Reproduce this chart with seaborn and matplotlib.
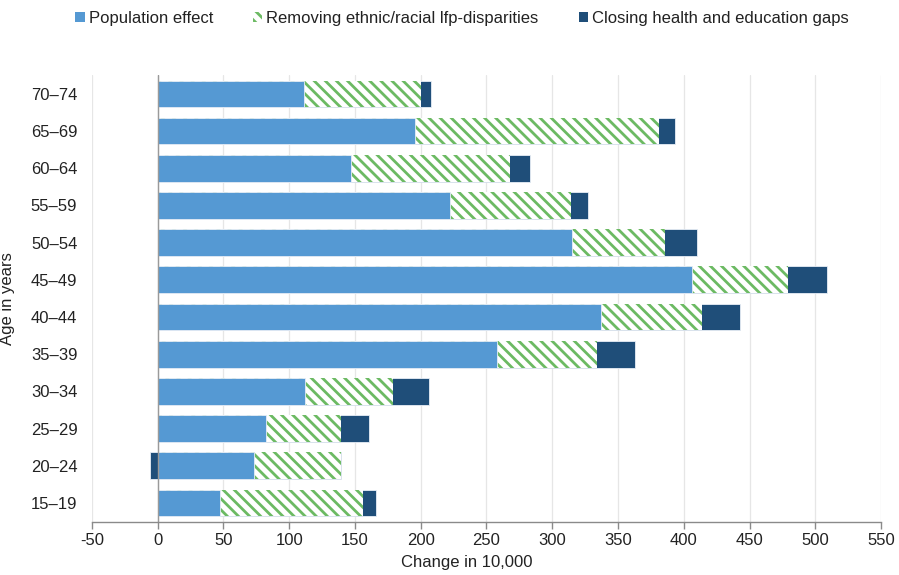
import matplotlib
matplotlib.use("Agg")
import matplotlib.pyplot as plt
import matplotlib.patches as mpatches
import numpy as np
import pandas as pd
import seaborn as sns

# values (change in 10,000)
age_groups = ["70–74", "65–69", "60–64", "55–59", "50–54", "45–49",
              "40–44", "35–39", "30–34", "25–29", "20–24", "15–19"]
population_effect = [111, 196, 147, 222, 315, 406, 337, 258, 112, 82, 73, 47]
ethnic_disparities = [89, 185, 121, 92, 71, 73, 77, 76, 67, 57, 66, 109]
health_education = [8, 12, 15, 13, 24, 30, 29, 29, 27, 22, -6, 10]
x_ticks = list(range(-50, 551, 50))

BLUE = "#5599d3"
GREEN = "#6cba63"
NAVY = "#1f4e79"
HATCH = "\\\\\\"

df = pd.DataFrame({
    "age": age_groups,
    "pop": population_effect,
    "eth": ethnic_disparities,
    "health": health_education,
})
df["pop_eth"] = df["pop"] + df["eth"]
df["health_pos"] = df["pop_eth"] + df["health"].clip(lower=0)
df["health_neg"] = df["health"].clip(upper=0)

sns.set_theme(style="white")
plt.rcParams["font.family"] = ["Liberation Sans", "DejaVu Sans"]
plt.rcParams["hatch.linewidth"] = 2.0

fig = plt.figure(figsize=(8.99, 5.75), dpi=100)
ax = fig.add_axes([0.1023, 0.093, 0.8777, 0.776])

bar_kw = dict(y="age", order=age_groups, orient="h", width=0.72, saturation=1,
              ax=ax, linewidth=0.6, edgecolor="#e8eef6")

# layered drawing: totals first, then overlay the shorter parts
sns.barplot(data=df, x="health_pos", color=NAVY, **bar_kw)
sns.barplot(data=df, x="health_neg", color=NAVY, **bar_kw)
sns.barplot(data=df, x="pop_eth", color="white", **bar_kw)
for p in ax.containers[-1]:
    p.set_hatch(HATCH)
    p.set_edgecolor(GREEN)
    p.set_linewidth(0)
sns.barplot(data=df, x="pop", color=BLUE, **bar_kw)

# axes styling
ax.set_xlim(-50, 550)
ax.set_xticks(x_ticks)
ax.set_xticklabels([str(t) for t in x_ticks])
ax.grid(axis="x", color="#e6e6e6", linewidth=0.9)
ax.set_axisbelow(True)
ax.axvline(0, color="#9a9a9a", linewidth=1.0, zorder=1)
for s in ["left", "top", "right"]:
    ax.spines[s].set_visible(False)
ax.spines["bottom"].set_color("#8a8a8a")
ax.spines["bottom"].set_linewidth(1.0)
ax.tick_params(axis="x", bottom=True, length=5, width=1.0, color="#8a8a8a",
               labelsize=12, labelcolor="#222222", pad=3)
ax.tick_params(axis="y", left=False, labelsize=12, labelcolor="#222222", pad=4.5)

ax.set_xlabel("Change in 10,000", fontsize=12, color="#222222")
ax.xaxis.set_label_coords(0.475, -0.075)
ax.set_ylabel("Age in years", fontsize=12, color="#222222")
ax.yaxis.set_label_coords(-0.097, 0.5)

handles = [
    mpatches.Patch(facecolor=BLUE, edgecolor="none", label="Population effect"),
    mpatches.Patch(facecolor="white", edgecolor=GREEN, hatch=HATCH, linewidth=0,
                   label="Removing ethnic/racial lfp-disparities"),
    mpatches.Patch(facecolor=NAVY, edgecolor="none",
                   label="Closing health and education gaps"),
]
fig.legend(handles=handles, loc="center", bbox_to_anchor=(0.514, 0.968), ncol=3,
           frameon=False, fontsize=12, handlelength=0.55, handleheight=0.55,
           handletextpad=0.25, columnspacing=2.4, labelcolor="#222222")

fig.savefig("out.png", dpi=100)
